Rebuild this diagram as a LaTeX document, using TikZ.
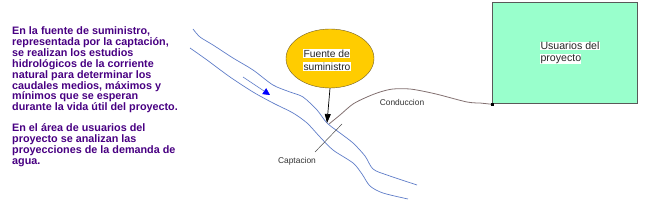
\documentclass[tikz,border=0pt]{standalone}
\usepackage{fontspec}
\setmainfont{Liberation Sans}
\usetikzlibrary{arrows.meta,shapes.geometric,calc}
\definecolor{txtpurple}{RGB}{72,0,130}
\definecolor{river}{RGB}{95,125,200}
\definecolor{gold}{RGB}{255,204,0}
\definecolor{goldedge}{RGB}{110,90,40}
\definecolor{mint}{RGB}{153,255,204}
\definecolor{pipe}{RGB}{130,112,112}
\definecolor{lbl}{RGB}{50,50,50}
\tikzset{
  note/.style={anchor=north west, inner sep=0pt, align=left, text=txtpurple,
    font=\fontsize{10.8}{10.9}\selectfont\bfseries},
  hl/.style={fill=white, inner sep=0.3pt, anchor=west, font=\fontsize{10.3}{12}\selectfont, text=black!85},
  small/.style={inner sep=0pt, text=lbl, font=\fontsize{8.4}{10}\selectfont},
  riverline/.style={draw=river, line width=0.7pt},
}
\begin{document}
\begin{tikzpicture}[x=1pt,y=-1pt]
\useasboundingbox (0,0) rectangle (650,200);
% left text
\node[note] (t1) at (12,26.5) {En la fuente de suministro,\\representada por la captación,\\se realizan los estudios\\hidrológicos de la corriente\\natural para determinar los\\caudales medios, máximos y\\mínimos que se esperan\\durante la vida útil del proyecto.};
\node[note] (t2) at (12,123.5) {En el área de usuarios del\\proyecto se analizan las\\proyecciones de la demanda de\\agua.};
% river
\draw[riverline] plot[smooth, tension=0.5] coordinates {(193,29) (200,37) (213,45) (233,58) (253,70) (273,85) (290,92) (303,97) (317,110) (327,123) (340,133) (353,143) (365,156) (373,169) (387,175) (417,185)};
\draw[riverline] plot[smooth, tension=0.5] coordinates {(190,48) (207,60) (230,77) (253,92) (273,103) (293,113) (307,123) (320,137) (333,150) (353,163) (362,174) (370,186) (383,193) (408,199)};
% flow arrow
\coordinate (f1) at (243,77);
\coordinate (f2) at (270,95);
\draw[draw=river, line width=0.6pt, -{Triangle[length=7pt,width=7pt,fill=blue,color=blue]}] (f1) -- (f2);
% source ellipse
\node[ellipse, draw=goldedge, fill=gold, minimum width=88pt, minimum height=59pt, inner sep=0pt] (src) at (330,58.5) {};
\node[hl] (srct1) at (303,53.5) {Fuente de};
\node[hl] (srct2) at (303,66.5) {suministro};
% intake point
\coordinate (cap) at (327,123);
\draw[black, line width=0.7pt, -{Triangle[length=9pt,width=6pt]}] (src.south) -- (cap);
% captacion cross line
\coordinate (c1) at (315,152);
\coordinate (c2) at (342,124);
\draw[draw=black!70, line width=0.5pt] (c1) -- (c2);
\node[small] (captl) at (297,161) {Captacion};
% users box
\node[draw=black!65, fill=mint, line width=0.8pt, minimum width=145pt, minimum height=101pt, inner sep=0pt, anchor=north west] (usr) at (492,2.5) {};
\node[hl, font=\fontsize{10.6}{12}\selectfont] (usrt1) at (540,46) {Usuarios del};
\node[hl, font=\fontsize{10.6}{12}\selectfont] (usrt2) at (540,59) {proyecto};
% conduction
\draw[draw=pipe, line width=0.8pt] plot[smooth, tension=0.5] coordinates {(329,124) (340,115) (353,104) (367,97) (380,92) (393,89) (410,89) (427,92) (440,95) (467,102) (480,103)} -- (usr.south west);
\fill[black] ($(usr.south west)+(-1.5,-1.5)$) rectangle ++(3,3);
\node[small] (condl) at (402,102) {Conduccion};
\end{tikzpicture}
\end{document}
